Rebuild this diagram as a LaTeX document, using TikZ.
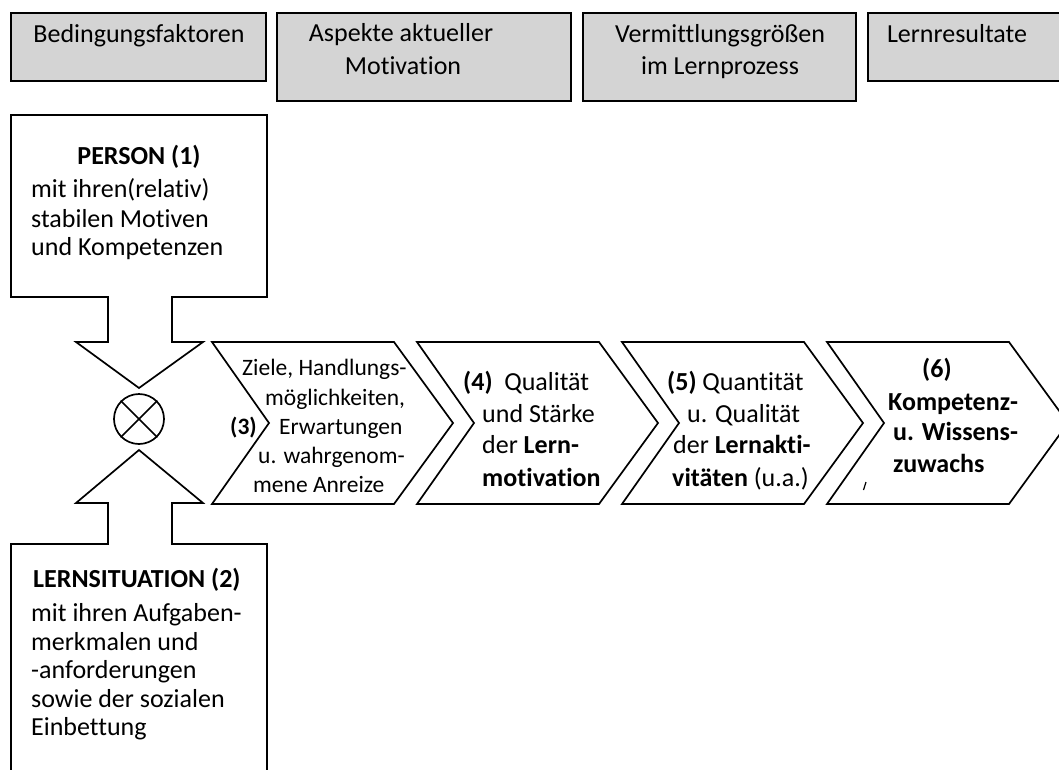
\documentclass[tikz,border=0pt]{standalone}
\usepackage{fontspec}
\setmainfont{Carlito}[Ligatures={NoCommon}]
\definecolor{hdr}{RGB}{212,212,212}
\begin{document}
\begin{tikzpicture}[x=1pt,y=-1pt,
  outl/.style={draw=black, line width=1.7pt, line join=miter},
  hbox/.style={outl, fill=hdr},
  tx/.style={inner sep=0pt, font=\fontsize{26}{31}\selectfont},
  ts/.style={inner sep=0pt, font=\fontsize{23.5}{29}\selectfont},
  hx/.style={inner sep=0pt, font=\fontsize{26}{31}\selectfont},
  lw/.style={anchor=base west},
  lc/.style={anchor=base},
]
\useasboundingbox (0,0) rectangle (1059,769);
\clip (0,0) rectangle (1059,769);
\fill[white] (0,0) rectangle (1059,769);

% header boxes
\draw[hbox] (11,13) rectangle (266,81);
\draw[hbox] (277,13) rectangle (571,101);
\draw[hbox] (583,13) rectangle (856,101);
\draw[hbox] (868,13) rectangle (1070,81);
\node[hx,lc] (h1) at (139,42) {Bedingungsfaktoren};
\node[hx,lc] (h2a) at (401,41) {Aspekte aktueller};
\node[hx,lc] (h2b) at (403,74) {Motivation};
\node[hx,lc] (h3a) at (720,42) {Vermittlungsgrößen};
\node[hx,lc] (h3b) at (720,74) {im Lernprozess};
\node[hx,lc] (h4) at (957,42) {Lernresultate};

% person shape
\draw[outl] (11,115) -- (267,115) -- (267,297) -- (172,297) -- (172,342) -- (203,342)
  -- (139,388) -- (76,342) -- (108,342) -- (108,297) -- (11,297) -- cycle;
\node[tx,lc] (p0) at (139,164) {\textbf{PERSON (1)}};
\node[tx,lw] (p1) at (31,197) {mit ihren(relativ)};
\node[tx,lw] (p2) at (31,227) {stabilen Motiven};
\node[tx,lw] (p3) at (31,255) {und Kompetenzen};

% learning situation shape
\draw[outl] (11,800) -- (11,544) -- (108,544) -- (108,503) -- (76,503) -- (139,450)
  -- (203,503) -- (172,503) -- (172,544) -- (267,544) -- (267,800);
\node[tx,lw] (s0) at (33,587) {\textbf{LERNSITUATION (2)}};
\node[tx,lw] (s1) at (31,621) {mit ihren Aufgaben-};
\node[tx,lw] (s2) at (31,650) {merkmalen und};
\node[tx,lw] (s3) at (31,678) {-anforderungen};
\node[tx,lw] (s4) at (31,707) {sowie der sozialen};
\node[tx,lw] (s5) at (31,735) {Einbettung};

% combination symbol
\node[circle, draw, line width=1.7pt, minimum size=50pt, inner sep=0pt] (ox) at (139,419) {};
\draw[line width=1.7pt] (ox.45) -- (ox.225);
\draw[line width=1.7pt] (ox.135) -- (ox.-45);

% chevrons
\foreach \x in {212,417,622,827}
  \draw[outl] (\x,342) -- ++(182,0) -- ++(59,81) -- ++(-59,81) -- ++(-182,0) -- ++(57,-81) -- cycle;

% chevron 1 text
\node[ts,lw] (c1a) at (242,375) {Ziele, Handlungs-};
\node[ts,lw] (c1b) at (265,405) {möglichkeiten,};
\node[ts,lw] (c1n) at (230,434) {\textbf{(3)}};
\node[ts,lw] (c1c) at (279,434) {Erwartungen};
\node[ts,lw] (c1d) at (258,463) {u. wahrgenom-};
\node[ts,lw] (c1e) at (253,492) {mene Anreize};

% chevron 2 text
\node[tx,lw] (c2a) at (463,390) {\textbf{(4)}\ \ Qualität};
\node[tx,lw] (c2b) at (482,422) {und Stärke};
\node[tx,lw] (c2c) at (482,453) {der \textbf{Lern-}};
\node[tx,lw] (c2d) at (482,486) {\textbf{motivation}};

% chevron 3 text
\node[tx,lw] (c3a) at (667,390) {\textbf{(5)} Quantität};
\node[tx,lw] (c3b) at (687,422) {u. Qualität};
\node[tx,lw] (c3c) at (673,453) {der \textbf{Lernakti-}};
\node[tx,lw] (c3d) at (672,486) {\textbf{vitäten} (u.a.)};

% chevron 4 text
\node[tx,lw] (c4a) at (922,377) {\textbf{(6)}};
\node[tx,lw] (c4b) at (888,410) {\textbf{Kompetenz-}};
\node[tx,lw] (c4c) at (893,440) {\textbf{u. Wissens-}};
\node[tx,lw] (c4d) at (893,472) {\textbf{zuwachs}};
\draw[line width=1.2pt] (863.5,490) -- (866,482);
\end{tikzpicture}
\end{document}
